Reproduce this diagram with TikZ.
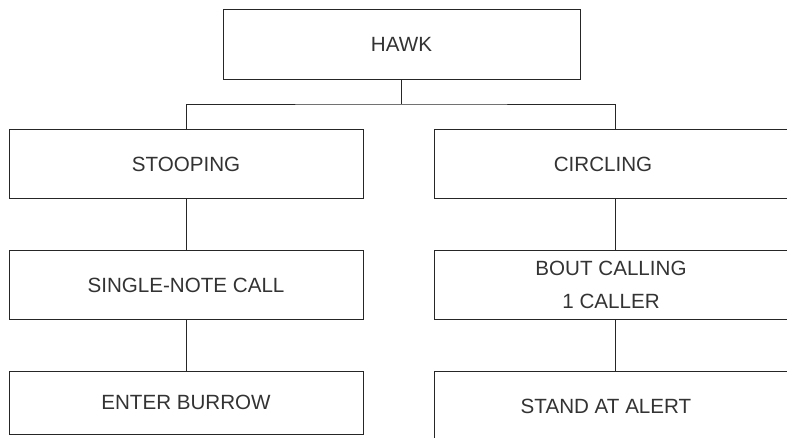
\documentclass[tikz,border=0pt]{standalone}
\usepackage{fontspec}
\setmainfont{Liberation Sans}
\begin{document}
\begin{tikzpicture}[x=1pt,y=-1pt,
  box/.style={draw=black!85, line width=0.9pt, rectangle, inner sep=0pt,
    font=\fontsize{20.6}{33}\selectfont, text=black!80, align=center},
  lbox/.style={box, minimum width=354pt, minimum height=69pt},
  rbox/.style={box, minimum width=362pt, minimum height=69pt},
  link/.style={draw=black!85, line width=0.8pt}]
\clip (0,0) rectangle (787,437);
\node[box, minimum width=357pt, minimum height=70pt] (hawk) at (401.5,44) {HAWK};
\node[lbox] (stoop) at (186,164) {STOOPING};
\node[lbox] (single) at (186,285) {SINGLE-NOTE CALL};
\node[lbox, minimum height=63pt] (enter) at (186,402.5) {ENTER BURROW};
\node[rbox] (circ) at (615,164) {\hspace*{-24pt}CIRCLING};
\node[rbox] (bout) at (615,285) {\hspace*{-8pt}BOUT CALLING\\\hspace*{-8pt}1 CALLER};
\node[rbox, minimum height=70pt] (stand) at (615,406) {\hspace*{-18pt}STAND AT ALERT};
\coordinate (j) at (401.5,104);
\draw[link] (hawk.south) -- (j);
\draw[link] (stoop.north) |- (j) -| (circ.north);
\draw[link] (stoop) -- (single);
\draw[link] (single) -- (enter);
\draw[link] (circ) -- (bout);
\draw[link] (bout) -- (stand);
\end{tikzpicture}
\end{document}
